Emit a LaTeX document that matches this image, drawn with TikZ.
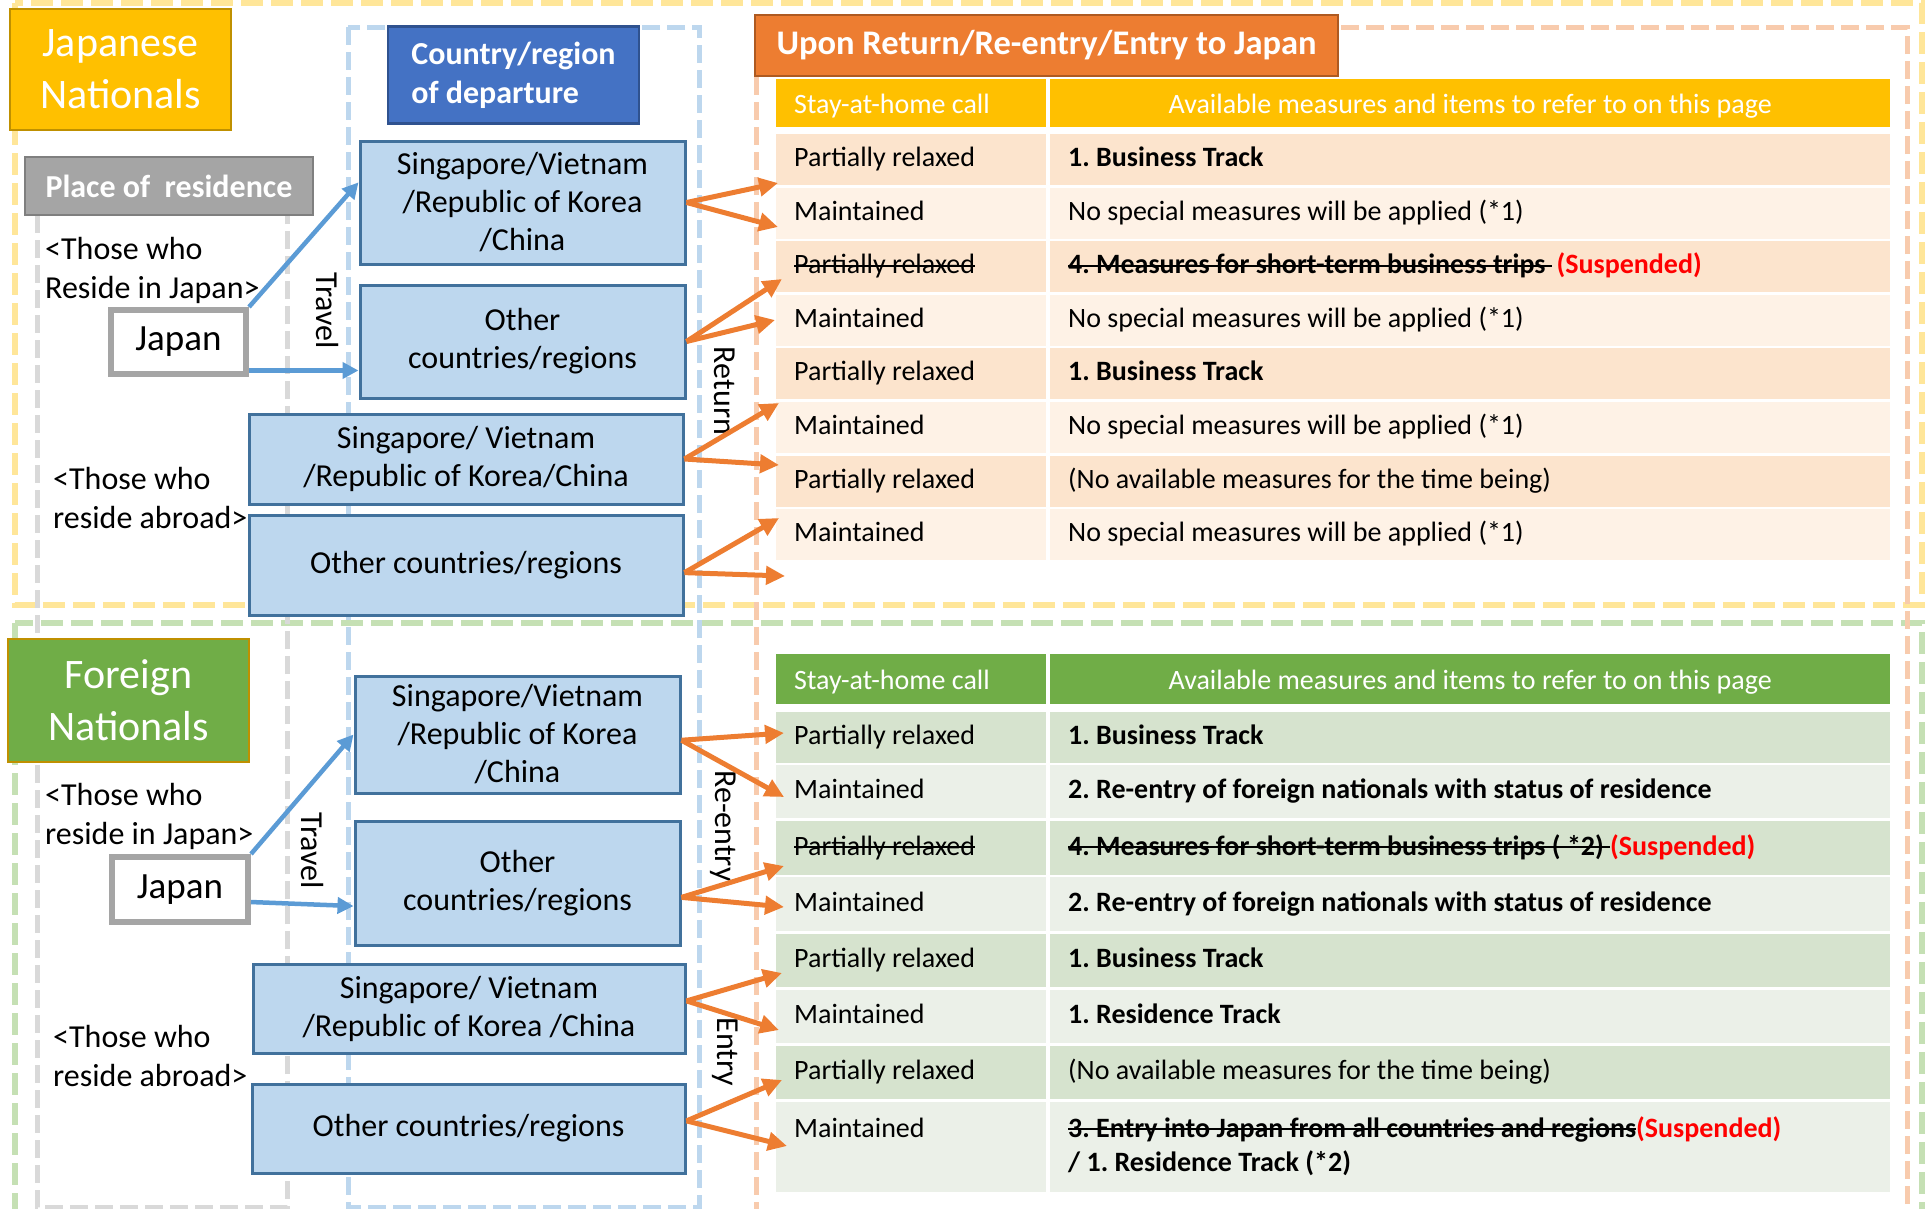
\documentclass[tikz,border=0pt]{standalone}
\usepackage{fontspec}
\setmainfont{Carlito}
\usetikzlibrary{arrows.meta}
\frenchspacing

\definecolor{jpgold}{HTML}{FFC000}
\definecolor{golddk}{HTML}{BF9000}
\definecolor{leaf}{HTML}{70AD47}
\definecolor{boxblue}{HTML}{BDD7EE}
\definecolor{boxedge}{HTML}{41719C}
\definecolor{deptblue}{HTML}{4472C4}
\definecolor{deptedge}{HTML}{2F528F}
\definecolor{tangerine}{HTML}{ED7D31}
\definecolor{tangedge}{HTML}{AE5A21}
\definecolor{arrowblue}{HTML}{5B9BD5}
\definecolor{greybox}{HTML}{A5A5A5}
\definecolor{greyedge}{HTML}{7F7F7F}
\definecolor{dashyellow}{HTML}{FFE699}
\definecolor{dashgreen}{HTML}{C5E0B4}
\definecolor{dashorange}{HTML}{F8CBAD}
\definecolor{dashblue}{HTML}{BDD7EE}
\definecolor{dashgrey}{HTML}{D9D9D9}
\definecolor{peachdk}{HTML}{FCE4CD}
\definecolor{peachlt}{HTML}{FEF2E6}
\definecolor{sagedk}{HTML}{D6E3CE}
\definecolor{sagelt}{HTML}{EBF0E8}

\newcommand\strk[1]{\setbox0\hbox{#1}\rlap{\rule[0.24em]{\wd0}{2pt}}\box0}
\newcommand\tightsp{\spaceskip=0.226em\relax\xspaceskip=0.226em\relax}

\begin{document}
\begin{tikzpicture}[x=1pt, y=-1pt,
	area/.style={line width=6pt, dash pattern=on 22pt off 8pt},
	lane/.style={line width=5pt, dash pattern=on 18pt off 7pt},
	region/.style={draw=boxedge, line width=3pt, fill=boxblue, inner sep=0pt, align=center, font=\fontsize{32}{38}\selectfont},
	home/.style={draw=greybox, line width=6pt, fill=white, inner sep=0pt, font=\fontsize{37}{44}\selectfont},
	banner/.style={text=white, inner sep=0pt, line width=2.5pt},
	nation/.style={banner, align=center, font=\fontsize{42}{52}\selectfont},
	note/.style={anchor=west, align=left, inner sep=0pt, font=\fontsize{32}{39}\selectfont},
	way/.style={rotate=-90, inner sep=0pt, font=\fontsize{32}{38}\selectfont},
	cell/.style={anchor=north west, inner xsep=18pt, inner ysep=0pt, align=left, text width=234pt, font=\fontsize{28}{34}\selectfont, execute at begin node=\tightsp\strut, execute at end node=\strut},
	wide/.style={cell, text width=804pt},
	head/.style={text=white, execute at begin node={\rule{0pt}{31pt}}},
	outward/.style={line width=4.5pt, arrowblue, -{Triangle[length=16pt,width=16pt]}},
	homeward/.style={line width=5pt, tangerine, -{Triangle[length=19pt,width=18pt]}}]

	\useasboundingbox (0,0) rectangle (1927,1208);
	\clip (0,0) rectangle (1927,1208);

	\draw[area, dashyellow] (15,3) rectangle (1922,605);
	\draw[area, dashgreen] (15,623) rectangle (1922,1215);
	\draw[lane, dashgrey] (37,190) rectangle (287,1207);
	\draw[lane, dashblue] (348,27) rectangle (699,1207);
	\draw[lane, dashorange] (756,27) rectangle (1907,1215);

	% Japanese nationals table
	\node[cell, head, fill=jpgold, minimum height=48pt] (hA1) at (776,79) {Stay-at-home call};
	\node[wide, head, fill=jpgold, align=center, minimum height=48pt] (hA2) at (1050,79) {Available measures and items to refer to on this page};
	\node[cell, fill=peachdk, minimum height=51pt] (a1) at (776,134) {Partially relaxed};
	\node[wide, fill=peachdk, minimum height=51pt] (a1x) at (1050,134) {\textbf{1. Business Track}};
	\node[cell, fill=peachlt, minimum height=51pt] (a2) at (776,188) {Maintained};
	\node[wide, fill=peachlt, minimum height=51pt] (a2x) at (1050,188) {No special measures will be applied (*1)};
	\node[cell, fill=peachdk, minimum height=51pt] (a3) at (776,241) {\strk{Partially relaxed}};
	\node[wide, fill=peachdk, minimum height=51pt] (a3x) at (1050,241) {\textbf{\strk{4. Measures for short-term business trips\ }\textcolor{red}{\,(Suspended)}}};
	\node[cell, fill=peachlt, minimum height=51pt] (a4) at (776,295) {Maintained};
	\node[wide, fill=peachlt, minimum height=51pt] (a4x) at (1050,295) {No special measures will be applied (*1)};
	\node[cell, fill=peachdk, minimum height=51pt] (a5) at (776,348) {Partially relaxed};
	\node[wide, fill=peachdk, minimum height=51pt] (a5x) at (1050,348) {\textbf{1. Business Track}};
	\node[cell, fill=peachlt, minimum height=51pt] (a6) at (776,402) {Maintained};
	\node[wide, fill=peachlt, minimum height=51pt] (a6x) at (1050,402) {No special measures will be applied (*1)};
	\node[cell, fill=peachdk, minimum height=51pt] (a7) at (776,456) {Partially relaxed};
	\node[wide, fill=peachdk, minimum height=51pt] (a7x) at (1050,456) {(No available measures for the time being)};
	\node[cell, fill=peachlt, minimum height=51pt] (a8) at (776,509) {Maintained};
	\node[wide, fill=peachlt, minimum height=51pt] (a8x) at (1050,509) {No special measures will be applied (*1)};

	% foreign nationals table
	\node[cell, head, fill=leaf, minimum height=50pt] (hB1) at (776,654) {Stay-at-home call};
	\node[wide, head, fill=leaf, align=center, minimum height=50pt] (hB2) at (1050,654) {Available measures and items to refer to on this page};
	\node[cell, fill=sagedk, minimum height=51pt] (b1) at (776,712) {Partially relaxed};
	\node[wide, fill=sagedk, minimum height=51pt] (b1x) at (1050,712) {\textbf{1. Business Track}};
	\node[cell, fill=sagelt, minimum height=53pt] (b2) at (776,765) {Maintained};
	\node[wide, fill=sagelt, minimum height=53pt] (b2x) at (1050,765) {\textbf{2. Re-entry of foreign nationals with status of residence}};
	\node[cell, fill=sagedk, minimum height=54pt] (b3) at (776,821) {\strk{Partially relaxed}};
	\node[wide, fill=sagedk, minimum height=54pt] (b3x) at (1050,821) {\textbf{\strk{4. Measures for short-term business trips ( *2)\ }\textcolor{red}{(Suspended)}}};
	\node[cell, fill=sagelt, minimum height=54pt] (b4) at (776,877) {Maintained};
	\node[wide, fill=sagelt, minimum height=54pt] (b4x) at (1050,877) {\textbf{2. Re-entry of foreign nationals with status of residence}};
	\node[cell, fill=sagedk, minimum height=53pt] (b5) at (776,934) {Partially relaxed};
	\node[wide, fill=sagedk, minimum height=53pt] (b5x) at (1050,934) {\textbf{1. Business Track}};
	\node[cell, fill=sagelt, minimum height=53pt] (b6) at (776,990) {Maintained};
	\node[wide, fill=sagelt, minimum height=53pt] (b6x) at (1050,990) {\textbf{1. Residence Track}};
	\node[cell, fill=sagedk, minimum height=53pt] (b7) at (776,1046) {Partially relaxed};
	\node[wide, fill=sagedk, minimum height=53pt] (b7x) at (1050,1046) {(No available measures for the time being)};
	\node[cell, fill=sagelt, minimum height=90pt] (b8) at (776,1102) {Maintained\\\mbox{}};
	\node[wide, fill=sagelt, minimum height=90pt] (b8x) at (1050,1102) {\textbf{\strk{3. Entry into Japan from all countries and regions}\textcolor{red}{(Suspended)}}\\\textbf{/ 1. Residence Track (*2)}};

	% headings
	\node[nation, fill=jpgold, draw=golddk, minimum width=221pt, minimum height=121pt] (jnat) at (120.5,69.5) {Japanese\\Nationals};
	\node[nation, fill=leaf, draw=golddk, minimum width=241pt, minimum height=123pt] (fnat) at (128.5,700.5) {Foreign\\Nationals};
	\node[banner, fill=greybox, draw=greyedge, minimum width=288pt, minimum height=58pt, font=\bfseries\fontsize{32}{38}\selectfont] (residence) at (169,186) {Place of\ \ residence};
	\node[banner, fill=deptblue, draw=deptedge, minimum width=251pt, minimum height=97pt, align=left, font=\bfseries\fontsize{32}{39}\selectfont] (departure) at (513.5,75) {Country/region\\of departure};
	\node[banner, fill=tangerine, draw=tangedge, minimum width=583pt, minimum height=61pt, font=\bfseries\fontsize{34.5}{40}\selectfont] (upon) at (1046.5,45.5) {Upon Return/Re-entry/Entry to Japan};

	% places of departure
	\node[region, minimum width=325pt, minimum height=123pt] (svkA) at (522.5,202.5) {Singapore/Vietnam\\/Republic of Korea\\/China};
	\node[region, minimum width=325pt, minimum height=113pt] (otherA) at (522.5,341.5) {Other\\countries/regions};
	\node[region, minimum width=434pt, minimum height=90pt] (svkB) at (466,459) {Singapore/ Vietnam\\/Republic of Korea/China};
	\node[region, minimum width=434pt, minimum height=100pt] (otherB) at (466,565) {Other countries/regions};
	\node[region, minimum width=325pt, minimum height=117pt] (svkC) at (517.5,734.5) {Singapore/Vietnam\\/Republic of Korea\\/China};
	\node[region, minimum width=325pt, minimum height=124pt] (otherC) at (517.5,883) {Other\\countries/regions};
	\node[region, minimum width=432pt, minimum height=89pt] (svkD) at (469,1008.5) {Singapore/ Vietnam\\/Republic of Korea /China};
	\node[region, minimum width=433pt, minimum height=89pt] (otherD) at (468.5,1128.5) {Other countries/regions};

	\node[home, minimum width=135pt, minimum height=64pt] (jpA) at (178.5,342) {Japan};
	\node[home, minimum width=136pt, minimum height=65pt] (jpB) at (180,889.5) {Japan};

	\node[note] (liveA) at (45,270) {<Those who\\Reside in Japan>};
	\node[note] (abroadA) at (53,498) {<Those who\\reside abroad>};
	\node[note] (liveB) at (45,816) {<Those who\\reside in Japan>};
	\node[note] (abroadB) at (53,1056) {<Those who\\reside abroad>};

	\node[way] (travelA) at (327,311) {Travel};
	\node[way] (returnA) at (725,391) {Return};
	\node[way] (travelB) at (312,851) {Travel};
	\node[way] (reentryB) at (723,826) {Re-entry};
	\node[way] (entryB) at (725,1052) {Entry};

	\draw[outward] (jpA.north east) -- (svkA.173);
	\draw[outward] (jpA.-22) -- (otherA.west |- jpA.-22);
	\draw[outward] (jpB.north east) -- (svkC.west);
	\draw[outward] (jpB.-10) -- (otherC.188);

	\coordinate (toA1) at (778,183);
	\coordinate (toA2) at (778,227);
	\coordinate (toA3) at (782,279);
	\coordinate (toA4) at (775,320);
	\coordinate (toA5) at (779,403);
	\coordinate (toA6) at (779,465);
	\coordinate (toA7) at (779,518);
	\coordinate (toA8) at (785,576);
	\coordinate (toB1) at (784,733);
	\coordinate (toB2) at (784,797);
	\coordinate (toB3) at (784,866);
	\coordinate (toB4) at (784,907);
	\coordinate (toB5) at (782,973);
	\coordinate (toB6) at (779,1030);
	\coordinate (toB7) at (782,1080);
	\coordinate (toB8) at (787,1146);

	\draw[homeward] (svkA.east) -- (toA1);
	\draw[homeward] (svkA.east) -- (toA2);
	\draw[homeward] (otherA.east) -- (toA3);
	\draw[homeward] (otherA.east) -- (toA4);
	\draw[homeward] (svkB.east) -- (toA5);
	\draw[homeward] (svkB.east) -- (toA6);
	\draw[homeward] (otherB.-2) -- (toA7);
	\draw[homeward] (otherB.-2) -- (toA8);
	\draw[homeward] (svkC.-2) -- (toB1);
	\draw[homeward] (svkC.-2) -- (toB2);
	\draw[homeward] (otherC.-5) -- (toB3);
	\draw[homeward] (otherC.-5) -- (toB4);
	\draw[homeward] (svkD.2) -- (toB5);
	\draw[homeward] (svkD.2) -- (toB6);
	\draw[homeward] (otherD.2) -- (toB7);
	\draw[homeward] (otherD.2) -- (toB8);
\end{tikzpicture}
\end{document}
